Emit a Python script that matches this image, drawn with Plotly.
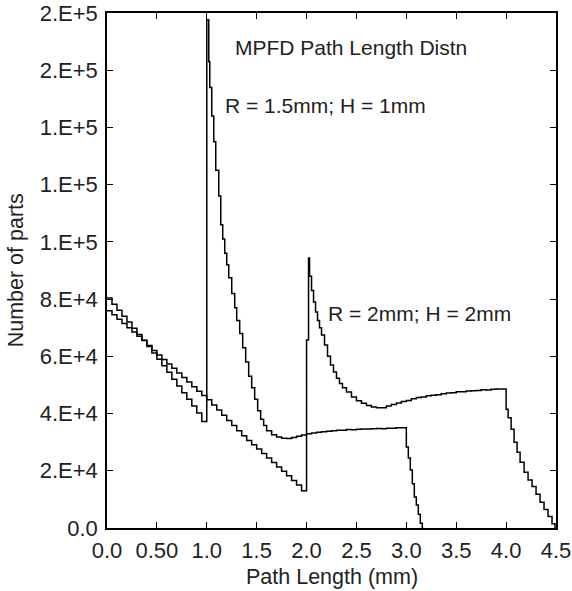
import plotly.graph_objects as go

# Series A: R = 1.5mm; H = 1mm  (bin left edges in mm, counts)
xa = [0.00, 0.05, 0.10, 0.15, 0.20, 0.25, 0.30, 0.35, 0.40, 0.45,
      0.50, 0.55, 0.60, 0.65, 0.70, 0.75, 0.80, 0.85, 0.90, 0.95,
      1.00, 1.02, 1.03, 1.05, 1.07, 1.09, 1.12, 1.14, 1.16, 1.18,
      1.20, 1.22, 1.25, 1.28, 1.30, 1.33, 1.36, 1.39, 1.42, 1.45,
      1.48, 1.51, 1.54, 1.57, 1.60, 1.65, 1.70, 1.75, 1.80, 1.85,
      1.90, 1.95, 2.00, 2.05, 2.10, 2.15, 2.20, 2.25, 2.30, 2.35,
      2.40, 2.45, 2.50, 2.55, 2.60, 2.65, 2.70, 2.75, 2.80, 2.85,
      2.90, 2.95, 3.00, 3.02, 3.04, 3.06, 3.08, 3.10, 3.12, 3.14,
      3.16, 3.17]
ya = [80400, 78200, 76100, 74000, 72000, 69800, 67600, 65600, 63400, 61200,
      59000, 56700, 54400, 52000, 49600, 47300, 45000, 42600, 40200, 37200,
      177600, 163000, 154000, 144000, 135000, 125000, 116000, 106000, 101000, 96000,
      92000, 87500, 82000, 77000, 72500, 68000, 63000, 58000, 53000, 49000,
      45000, 41000, 38000, 35800, 34000, 32600, 31800, 31400, 31300, 31600,
      32100, 32500, 32900, 33200, 33500, 33600, 33800, 34000, 34200, 34200,
      34400, 34300, 34500, 34600, 34600, 34700, 34800, 34700, 34900, 34900,
      35000, 35000, 28300, 24500, 20300, 15500, 10800, 8000, 4800, 1700,
      0, 0]

# Series B: R = 2mm; H = 2mm
xb = [0.00, 0.05, 0.10, 0.15, 0.20, 0.25, 0.30, 0.35, 0.40, 0.45,
      0.50, 0.55, 0.60, 0.65, 0.70, 0.75, 0.80, 0.85, 0.90, 0.95,
      1.00, 1.05, 1.10, 1.15, 1.20, 1.25, 1.30, 1.35, 1.40, 1.45,
      1.50, 1.55, 1.60, 1.65, 1.70, 1.75, 1.80, 1.85, 1.90, 1.95,
      2.00, 2.02, 2.03, 2.05, 2.07, 2.09, 2.11, 2.13, 2.15, 2.18,
      2.21, 2.24, 2.27, 2.30, 2.33, 2.36, 2.40, 2.45, 2.50, 2.55,
      2.60, 2.65, 2.70, 2.75, 2.80, 2.85, 2.90, 2.95, 3.00, 3.05,
      3.10, 3.15, 3.20, 3.25, 3.30, 3.35, 3.40, 3.45, 3.50, 3.55,
      3.60, 3.65, 3.70, 3.75, 3.80, 3.85, 3.90, 3.95, 4.00, 4.02,
      4.05, 4.08, 4.11, 4.14, 4.18, 4.22, 4.26, 4.30, 4.34, 4.38,
      4.42, 4.46, 4.49]
yb = [75900, 74500, 73000, 71500, 70000, 68500, 67000, 65500, 63800, 62000,
      60500, 58900, 57300, 55800, 54200, 52600, 51000, 49400, 47800, 46300,
      44800, 43000, 41200, 39400, 37600, 35800, 34000, 32200, 30600, 29100,
      27600, 26000, 24500, 22900, 21300, 19800, 18300, 16600, 15000, 13000,
      65700, 94400, 88000, 83000, 79000, 75500, 72500, 70000, 67500, 64000,
      60000, 57000, 54500, 52300, 50500, 49000, 47500, 45800, 44500, 43600,
      42800, 42300, 42000, 42000, 42600, 43200, 43700, 44200, 44600, 45200,
      45600, 45800, 46200, 46400, 46600, 46900, 47200, 47300, 47600, 47600,
      47900, 48000, 48100, 48300, 48200, 48500, 48600, 48600, 41500, 38500,
      34500, 30000, 26500, 23000, 19500, 16800, 14500, 11800, 9000, 6500,
      4000, 1500, 0]

x_ticks = [0.0, 0.5, 1.0, 1.5, 2.0, 2.5, 3.0, 3.5, 4.0, 4.5]
x_ticktext = ["0.0", "0.50", "1.0", "1.5", "2.0", "2.5", "3.0", "3.5", "4.0", "4.5"]
y_ticks = [0, 20000, 40000, 60000, 80000, 100000, 120000, 140000, 160000, 180000]
y_ticktext = ["0.0", "2.E+4", "4.E+4", "6.E+4", "8.E+4", "1.E+5", "1.E+5", "1.E+5", "2.E+5", "2.E+5"]

FONT = "Liberation Sans, Arial, Helvetica, sans-serif"
TXT = "#222222"

fig = go.Figure()
for xs, ys in ((xa, ya), (xb, yb)):
    fig.add_trace(go.Scatter(x=xs, y=ys, mode="lines", line_shape="hv",
                             line=dict(color="black", width=1.5),
                             showlegend=False, hoverinfo="skip"))

fig.add_annotation(x=1.26, y=168000, text="MPFD Path Length Distn", showarrow=False,
                   xanchor="left", yanchor="middle", font=dict(size=21, color=TXT))
fig.add_annotation(x=1.16, y=147500, text="R = 1.5mm; H = 1mm", showarrow=False,
                   xanchor="left", yanchor="middle", font=dict(size=21, color=TXT))
fig.add_annotation(x=2.19, y=75000, text="R = 2mm; H = 2mm", showarrow=False,
                   xanchor="left", yanchor="middle", font=dict(size=21, color=TXT))

# axis titles
fig.add_annotation(xref="paper", yref="paper", x=0.5, y=-0.095, text="Path Length (mm)",
                   showarrow=False, xanchor="center", yanchor="middle",
                   font=dict(size=21.5, color=TXT))
fig.add_annotation(xref="paper", yref="paper", x=-0.203, y=0.5, text="Number of parts",
                   showarrow=False, xanchor="center", yanchor="middle", textangle=-90,
                   font=dict(size=21.5, color=TXT))

axis_common = dict(showgrid=False, zeroline=False, showline=True, linecolor="black",
                   linewidth=1.5, mirror="ticks", ticks="inside", ticklen=6,
                   tickwidth=1, tickcolor="black", automargin=False,
                   ticklabeloverflow="allow",
                   tickfont=dict(size=22, color=TXT, family=FONT))

fig.update_xaxes(range=[0, 4.5], tickvals=x_ticks, ticktext=x_ticktext,
                 ticklabelstandoff=2, **axis_common)
fig.update_yaxes(range=[0, 180000], tickvals=y_ticks, ticktext=y_ticktext,
                 ticklabelstandoff=3, **axis_common)

fig.update_layout(width=572, height=591, plot_bgcolor="white", paper_bgcolor="white",
                  margin=dict(l=107, r=16, t=13, b=63),
                  font=dict(family=FONT, color=TXT))

# remove the page's default body margin so the figure fills the window exactly
fig.write_html("out.html", config={"displayModeBar": False},
               post_script="document.body.style.margin='0px';"
                           "document.documentElement.style.overflow='hidden';")
